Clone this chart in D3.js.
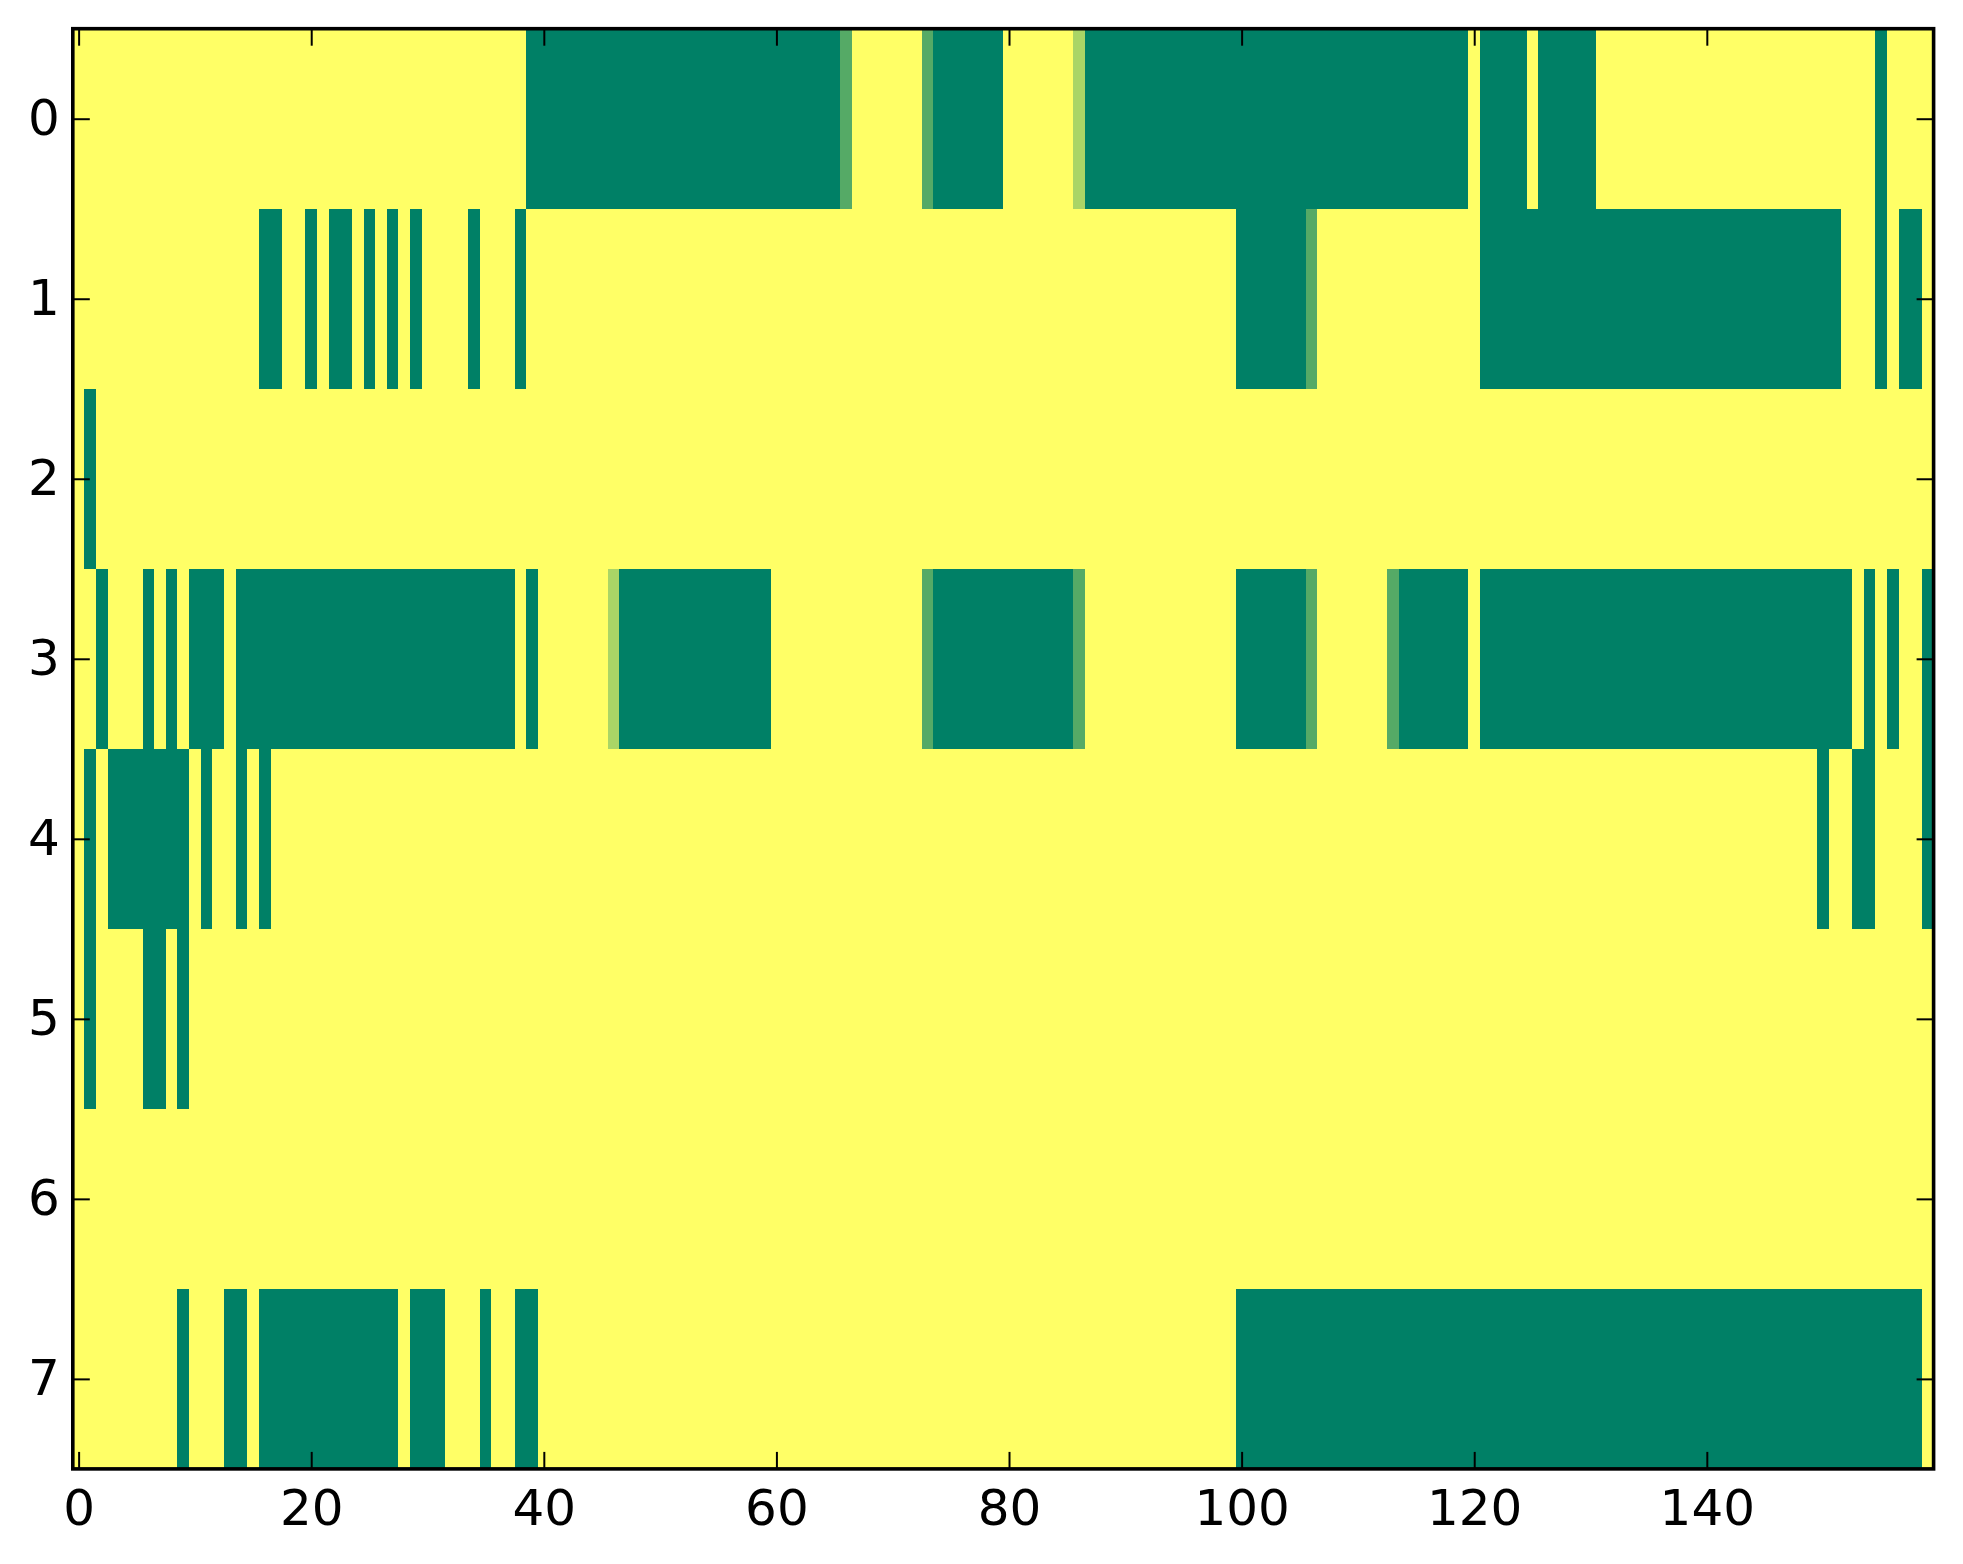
<!DOCTYPE html>
<html>
<head>
<meta charset="utf-8">
<script src="https://cdn.jsdelivr.net/npm/d3@7"></script>
<style>
	body { margin: 0; background: #ffffff; }
	.axis text { font-family: "DejaVu Sans", sans-serif; font-size: 50px; fill: #000; }
	.axis line { stroke: #000; stroke-width: 2px; }
	.axis path { display: none; }
</style>
</head>
<body>
<div class="container"></div>
<script>

const rowLabels = [0, 1, 2, 3, 4, 5, 6, 7];
const xTicks = [0, 20, 40, 60, 80, 100, 120, 140];
const columnCount = 160;

// one character per column, groups of ten: 0 = 0, a = 1/3, b = 2/3, 1 = 1
const cellLevels = { '0': 0, 'a': 1 / 3, 'b': 2 / 3, '1': 1 };

const rows = [
	"1111111111 1111111111 1111111111 1111111110 0000000000 0000000000 000000a111 111a000000 111111b000 0000000000 0000000000 0000000000 1000010000 0111111111 1111111111 1111101111",
	"1111111111 1111110011 0100101010 1111011101 1111111111 1111111111 1111111111 1111111111 1111111111 1111111111 000000a111 1111111111 1000000000 0000000000 0000000000 0011101001",
	"1011111111 1111111111 1111111111 1111111111 1111111111 1111111111 1111111111 1111111111 1111111111 1111111111 1111111111 1111111111 1111111111 1111111111 1111111111 1111111111",
	"1101110101 0001000000 0000000000 0000000010 111111b000 0000000000 1111111111 111a000000 000000a111 1111111111 000000a111 111a000000 1000000000 0000000000 0000000000 0001010110",
	"1010000000 1011010111 1111111111 1111111111 1111111111 1111111111 1111111111 1111111111 1111111111 1111111111 1111111111 1111111111 1111111111 1111111111 1111111111 0110011110",
	"1011110010 1111111111 1111111111 1111111111 1111111111 1111111111 1111111111 1111111111 1111111111 1111111111 1111111111 1111111111 1111111111 1111111111 1111111111 1111111111",
	"1111111111 1111111111 1111111111 1111111111 1111111111 1111111111 1111111111 1111111111 1111111111 1111111111 1111111111 1111111111 1111111111 1111111111 1111111111 1111111111",
	"1111111110 1110010000 0000000010 0011101100 1111111111 1111111111 1111111111 1111111111 1111111111 1111111111 0000000000 0000000000 0000000000 0000000000 0000000000 0000000001"
];

const width = 1963;
const height = 1564;
const plot = { left: 72.8, right: 1933.6, top: 28.7, bottom: 1468.9 };

const cells = [];
rows.forEach((line, row) => {
	line.replace(/ /g, '').split('').forEach((ch, col) => {
		cells.push({ row: row, col: col, value: cellLevels[ch] });
	});
});

const x = d3.scaleLinear()
			.domain([-0.5, columnCount - 0.5])
			.range([plot.left, plot.right]);

const y = d3.scaleLinear()
			.domain([-0.5, rowLabels.length - 0.5])
			.range([plot.top, plot.bottom]);

// matplotlib "summer": green at 0, yellow at 1
const color = d3.scaleLinear()
				.domain([0, 1])
				.range(["rgb(0,128,102)", "rgb(255,255,102)"]);

const svg = d3.select(".container")
			.append("svg")
				.attr("width", width)
				.attr("height", height);

svg.append("rect")
		.attr("width", width)
		.attr("height", height)
		.attr("fill", "#ffffff");

svg.append("g")
		.attr("class", "cells")
	.selectAll("rect")
	.data(cells)
		.enter()
	.append("rect")
		.attr("x", (d) => x(d.col - 0.5))
		.attr("y", (d) => y(d.row - 0.5))
		.attr("width", (d) => x(d.col + 0.5) - x(d.col - 0.5) + 0.3)
		.attr("height", (d) => y(d.row + 0.5) - y(d.row - 0.5) + 0.3)
		.attr("fill", (d) => color(d.value))
		.attr("shape-rendering", "crispEdges");

const tickLen = 17;

svg.append("g")
		.attr("class", "axis")
		.attr("transform", `translate(0, ${ plot.bottom })`)
		.call(d3.axisBottom(x).tickValues(xTicks).tickSizeInner(-tickLen).tickSizeOuter(0).tickPadding(21));

svg.append("g")
		.attr("class", "axis")
		.attr("transform", `translate(0, ${ plot.top })`)
		.call(d3.axisTop(x).tickValues(xTicks).tickSizeInner(-tickLen).tickSizeOuter(0).tickFormat(""));

svg.append("g")
		.attr("class", "axis")
		.attr("transform", `translate(${ plot.left }, 0)`)
		.call(d3.axisLeft(y).tickValues(rowLabels).tickSizeInner(-tickLen).tickSizeOuter(0).tickPadding(13));

svg.append("g")
		.attr("class", "axis")
		.attr("transform", `translate(${ plot.right }, 0)`)
		.call(d3.axisRight(y).tickValues(rowLabels).tickSizeInner(-tickLen).tickSizeOuter(0).tickFormat(""));

svg.append("rect")
		.attr("x", plot.left)
		.attr("y", plot.top)
		.attr("width", plot.right - plot.left)
		.attr("height", plot.bottom - plot.top)
		.attr("fill", "none")
		.attr("stroke", "#000")
		.attr("stroke-width", 3.6);

</script>
</body>
</html>
